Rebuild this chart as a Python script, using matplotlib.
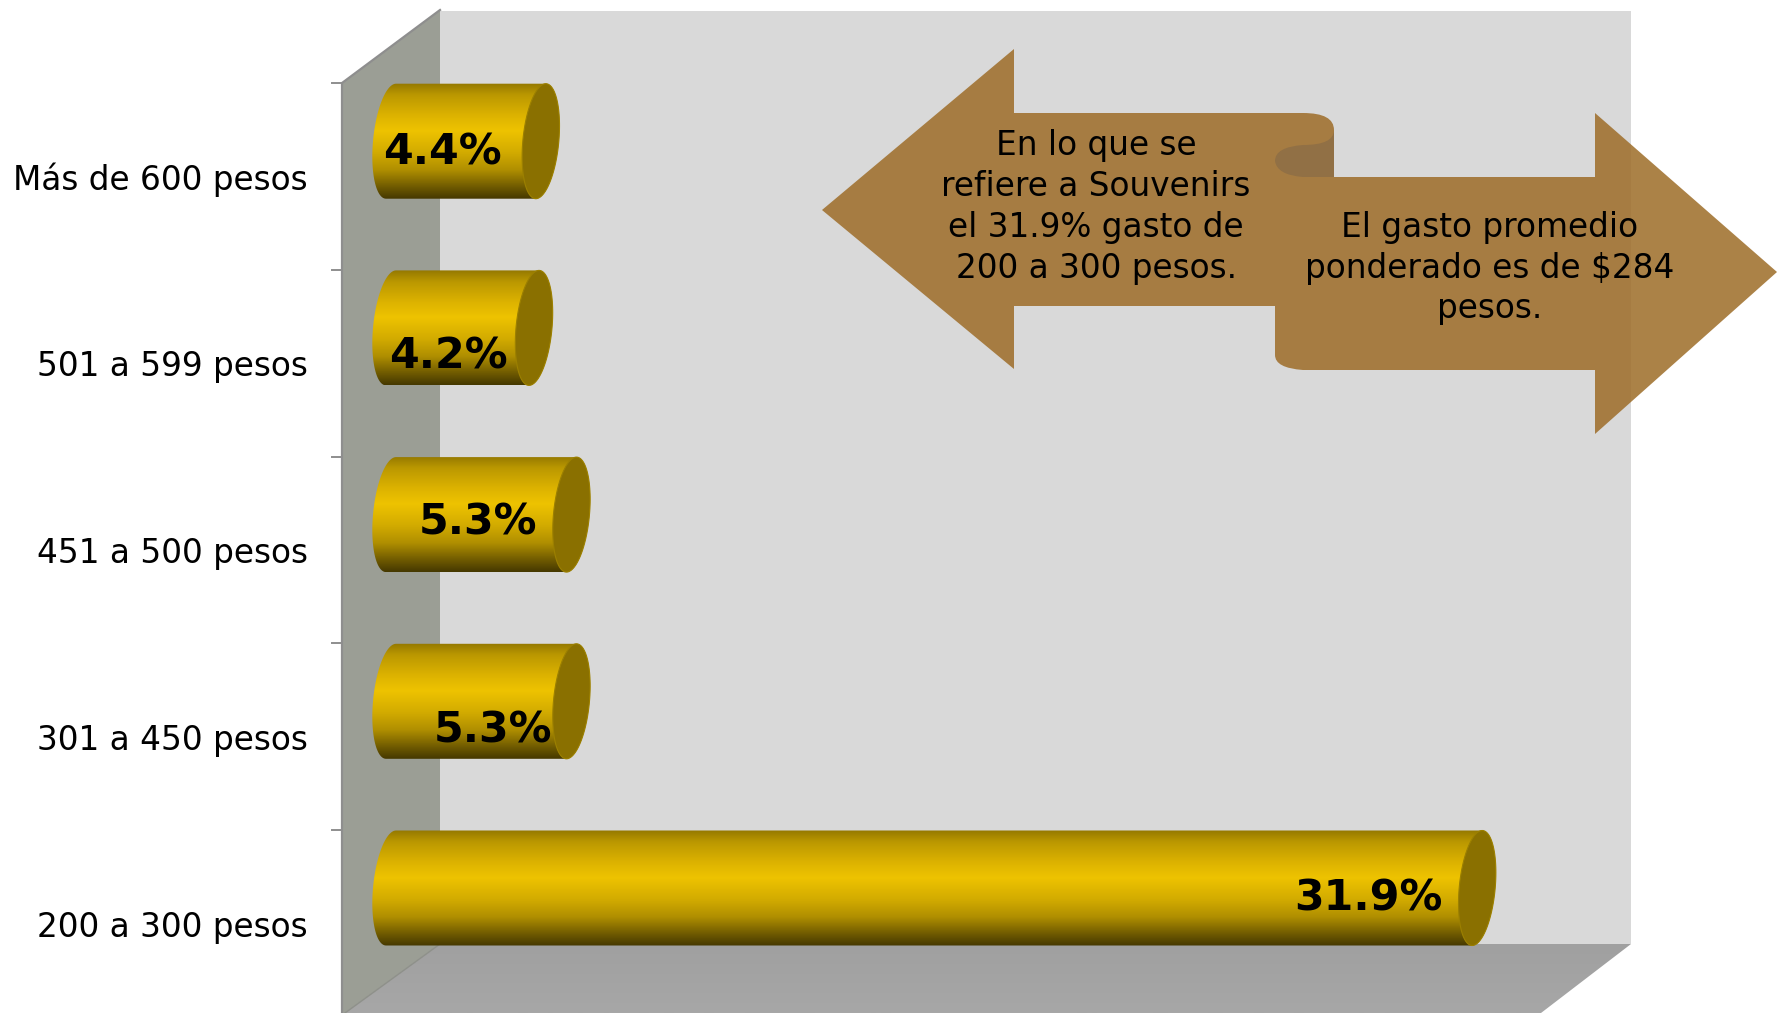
import numpy as np
import matplotlib
matplotlib.use("Agg")
import matplotlib.pyplot as plt
from matplotlib.colors import LinearSegmentedColormap
from matplotlib.patches import Polygon, PathPatch
from matplotlib.path import Path

# data
categories = ["200 a 300 pesos", "301 a 450 pesos", "451 a 500 pesos", "501 a 599 pesos", "Más de 600 pesos"]
values = [31.9, 5.3, 5.3, 4.2, 4.4]
value_labels = ["31.9%", "5.3%", "5.3%", "4.2%", "4.4%"]
note_left = "En lo que se\nrefiere a Souvenirs\nel 31.9% gasto de\n200 a 300 pesos."
note_right = "El gasto promedio\nponderado es de $284\npesos."

# label offsets in pixels from the end of each bar
label_dx = [-109, -78, -93, -86, -98]
label_dy = [-10, -29, -8, -29, -11]

W, H = 1777, 1013
X0, PX_PER_PCT = 391, 34.05
Y0, PX_PER_CAT = 888, 186.7
XMIN = -2
FONT = "DejaVu Sans"

plt.rcParams["font.family"] = FONT
fig = plt.figure(figsize=(W / 100, H / 100), dpi=100, facecolor="white")

# background in pixel coordinates
bg = fig.add_axes([0, 0, 1, 1])
bg.set_xlim(0, W)
bg.set_ylim(H, 0)
bg.axis("off")

bg.add_patch(Polygon([(440, 11), (1631, 11), (1631, 944), (440, 944)], fc="#D9D9D9", ec="none"))
floor = np.linspace(0, 1, 60)[:, None]
floor_cmap = LinearSegmentedColormap.from_list("floor", ["#A0A0A0", "#A7A7A7"])
im = bg.imshow(floor, cmap=floor_cmap, extent=[342, 1632, 1013, 944], aspect="auto", zorder=1)
im.set_clip_path(Polygon([(440, 944), (1631, 944), (1541, 1013), (345, 1013)], transform=bg.transData))
bg.set_xlim(0, W)
bg.set_ylim(H, 0)
bg.add_patch(Polygon([(342, 83), (440, 10), (440, 944), (345, 1013), (342, 1013)], fc="#9B9E95", ec="none", zorder=2))
bg.plot([342, 342, 440], [1013, 83, 10], color="#8E8E8E", lw=1.6, zorder=3)
bg.plot([345, 440], [1013, 944], color="#8E908A", lw=1, zorder=3)
for y in [83, 270, 457, 643, 830]:
    bg.plot([332, 342], [y, y], color="#8E8E8E", lw=1.4, zorder=3)

# bars on real axes
ax = fig.add_axes([(X0 + XMIN * PX_PER_PCT) / W, (H - (Y0 + 0.5 * PX_PER_CAT)) / H,
                   (35 - XMIN) * PX_PER_PCT / W, 5 * PX_PER_CAT / H])
ax.axis("off")
ax.patch.set_alpha(0)

gold = LinearSegmentedColormap.from_list("gold", [
    (0.0, "#957900"), (0.10, "#BB9800"), (0.28, "#DDB300"), (0.41, "#EEC300"),
    (0.60, "#D2AB00"), (0.75, "#B08F00"), (0.90, "#6F5A00"), (1.0, "#463900")])
grad = np.linspace(0, 1, 200)[:, None]

a = 18 / PX_PER_PCT
s = 5 / PX_PER_PCT
b = 57.5 / PX_PER_CAT


def ellipse(cx, cy, t):
    return np.column_stack([cx + a * np.cos(t) + s * np.sin(t), cy + b * np.sin(t)])


for i, v in enumerate(values):
    left = ellipse(0, i, np.linspace(np.pi / 2, 3 * np.pi / 2, 60))
    right = ellipse(v, i, np.linspace(-np.pi / 2, np.pi / 2, 60))
    body = np.vstack([left, right])
    im = ax.imshow(grad, cmap=gold, extent=[-1, v + 1, i - b, i + b], aspect="auto",
                   interpolation="bilinear", zorder=2)
    im.set_clip_path(Polygon(body, transform=ax.transData))
    cap = ellipse(v, i, np.linspace(0, 2 * np.pi, 120))
    ax.add_patch(Polygon(cap, fc="#8A7000", ec="#9C8000", lw=0.8, zorder=3, clip_on=False))
    ax.annotate(value_labels[i], xy=(v, i), xytext=(label_dx[i], label_dy[i]), textcoords="offset pixels",
                ha="center", va="center", fontsize=30.8, fontweight="bold", color="black", zorder=4)
    ax.annotate(categories[i], xy=(0, i), xytext=(308 - X0, -39), textcoords="offset pixels",
                ha="right", va="center", fontsize=23.6, color="black", annotation_clip=False)
ax.set_xlim(XMIN, 35)
ax.set_ylim(-0.5, 4.5)

# notes in pixel coordinates, above everything
top = fig.add_axes([0, 0, 1, 1])
top.set_xlim(0, W)
top.set_ylim(H, 0)
top.axis("off")
top.patch.set_alpha(0)

M, L, C, Z = Path.MOVETO, Path.LINETO, Path.CURVE3, Path.CLOSEPOLY
ribbon = [(M, (822, 210)), (L, (1014, 49)), (L, (1014, 113)), (L, (1303, 113)),
          (C, (1334, 113)), (C, (1334, 130)), (L, (1334, 177)), (L, (1595, 177)),
          (L, (1595, 113)), (L, (1777, 272)), (L, (1595, 434)), (L, (1595, 370)),
          (L, (1303, 370)), (C, (1275, 368)), (C, (1275, 355)), (L, (1275, 306)),
          (L, (1014, 306)), (L, (1014, 369)), (Z, (822, 210))]
top.add_patch(PathPatch(Path([p for _, p in ribbon], [c for c, _ in ribbon]),
                        fc="#9D6C27", alpha=0.85, ec="none"))
curl = [(M, (1334, 130)), (C, (1334, 145)), (C, (1303, 145)), (C, (1275, 147)), (C, (1275, 161)),
        (C, (1277, 175)), (C, (1303, 177)), (L, (1334, 177)), (Z, (1334, 130))]
top.add_patch(PathPatch(Path([p for _, p in curl], [c for c, _ in curl]), fc="#917045", ec="none"))

for txt, x, y in [(note_left, 1096, 207), (note_right, 1490, 268)]:
    top.text(x, y, txt, ha="center", va="center", fontsize=23.6, linespacing=1.3, color="black")

fig.savefig("out.png", dpi=100)
